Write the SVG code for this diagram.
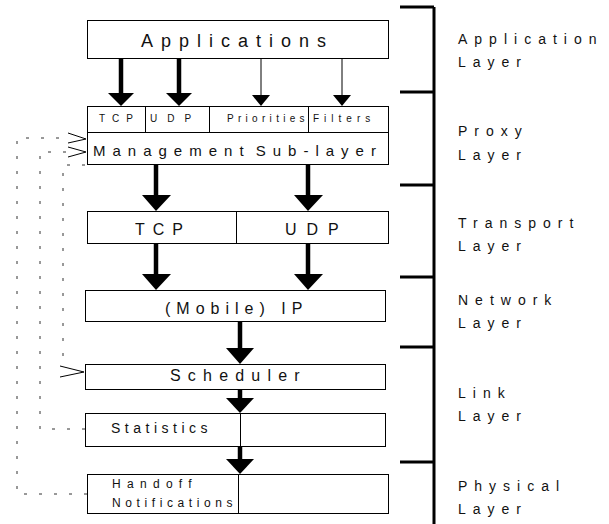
<svg xmlns="http://www.w3.org/2000/svg" width="609" height="524" viewBox="0 0 609 524">
<style>
.box{fill:#fff;stroke:#000;stroke-width:1}
.div{stroke:#000;stroke-width:1}
text{font-family:"Liberation Sans",Arial,sans-serif;fill:#111}
.big{font-size:18px;letter-spacing:8px}
.med{font-size:16px}
.sm{font-size:10px}
.lay{font-size:14px;letter-spacing:7px}
.shaft{stroke:#000;stroke-width:4.5}
.thin{stroke:#000;stroke-width:1}
.dash{fill:none;stroke:#333;stroke-width:1;stroke-dasharray:3,12}
.chev{fill:none;stroke:#000;stroke-width:1}
.brk{stroke:#000;stroke-width:3;fill:none}
</style>
<rect width="609" height="524" fill="#fff"/>

<g id="connectors">
  <line class="shaft" x1="121" y1="59" x2="121" y2="94"/>
  <polygon points="108,93 134,93 121,106"/>
  <line class="shaft" x1="179" y1="59" x2="179" y2="94"/>
  <polygon points="166,93 192,93 179,106"/>
  <line class="thin" x1="261" y1="59" x2="261" y2="95"/>
  <polygon points="252,95 270,95 261,106"/>
  <line class="thin" x1="342" y1="59" x2="342" y2="95"/>
  <polygon points="333,95 351,95 342,106"/>
  <line class="shaft" x1="156" y1="165" x2="156" y2="196"/>
  <polygon points="142,195 171,195 156,211"/>
  <line class="shaft" x1="308" y1="165" x2="308" y2="196"/>
  <polygon points="294,195 323,195 308,211"/>
  <line class="shaft" x1="156" y1="244" x2="156" y2="275"/>
  <polygon points="142,274 171,274 156,290"/>
  <line class="shaft" x1="308" y1="244" x2="308" y2="275"/>
  <polygon points="294,274 323,274 308,290"/>
  <line class="shaft" x1="240" y1="322" x2="240" y2="349"/>
  <polygon points="226,348 254,348 240,364"/>
  <line class="shaft" x1="240" y1="388" x2="240" y2="399"/>
  <polygon points="226,398 254,398 240,413"/>
  <line class="shaft" x1="240" y1="446" x2="240" y2="460"/>
  <polygon points="226,459 254,459 240,474"/>

  <polyline class="dash" points="87,494 17,494 17,138 66,138"/>
  <polyline class="chev" points="68,133 86,139 68,143"/>
  <polyline class="dash" points="85,429 40,429 40,152 66,152"/>
  <polyline class="chev" points="68,147 86,152 68,157"/>
  <polyline class="dash" points="85,165 63,165 63,368"/>
  <polyline class="chev" points="60,366 84,372 60,377"/>

  <line class="brk" x1="434" y1="7" x2="434" y2="524"/>
  <line class="brk" x1="400" y1="7" x2="434" y2="7"/>
  <line class="brk" x1="400" y1="92" x2="434" y2="92"/>
  <line class="brk" x1="400" y1="185" x2="434" y2="185"/>
  <line class="brk" x1="400" y1="277" x2="434" y2="277"/>
  <line class="brk" x1="400" y1="347" x2="434" y2="347"/>
  <line class="brk" x1="400" y1="462" x2="434" y2="462"/>
</g>

<g id="applications">
  <rect class="box" x="87.5" y="20.5" width="301" height="38"/>
  <text class="big" x="141" y="47">Applications</text>
</g>

<g id="proxy">
  <rect class="box" x="87.5" y="106.5" width="301" height="58"/>
  <line class="div" x1="87.5" y1="132.5" x2="388.5" y2="132.5"/>
  <line class="div" x1="145.5" y1="106.5" x2="145.5" y2="132.5"/>
  <line class="div" x1="209.5" y1="106.5" x2="209.5" y2="132.5"/>
  <line class="div" x1="308.5" y1="106.5" x2="308.5" y2="132.5"/>
  <text class="sm" x="99" y="122" style="letter-spacing:7px">TCP</text>
  <text class="sm" x="150" y="122" style="letter-spacing:10px">UDP</text>
  <text class="sm" x="227" y="122" style="letter-spacing:4.3px">Priorities</text>
  <text class="sm" x="313" y="122" style="letter-spacing:5px">Filters</text>
  <text class="med" x="93" y="156" style="font-size:15px;letter-spacing:7px;word-spacing:-6px">Management Sub-layer</text>
</g>

<g id="transport">
  <rect class="box" x="87.5" y="211.5" width="301" height="32"/>
  <line class="div" x1="236.5" y1="211.5" x2="236.5" y2="243.5"/>
  <text class="med" x="135" y="235" style="letter-spacing:8px">TCP</text>
  <text class="med" x="285" y="235" style="letter-spacing:10px">UDP</text>
</g>

<g id="ip">
  <rect class="box" x="85.5" y="290.5" width="300" height="31"/>
  <text class="med" x="165" y="314" style="letter-spacing:6px">(Mobile) IP</text>
</g>

<g id="scheduler">
  <rect class="box" x="85.5" y="364.5" width="300" height="25"/>
  <text class="med" x="170" y="381" style="letter-spacing:7.2px">Scheduler</text>
</g>

<g id="statistics">
  <rect class="box" x="85.5" y="413.5" width="300" height="33"/>
  <line class="div" x1="240.5" y1="413.5" x2="240.5" y2="446.5"/>
  <text class="med" x="111" y="433" style="font-size:14px;letter-spacing:4.5px">Statistics</text>
</g>

<g id="handoff">
  <rect class="box" x="87.5" y="474.5" width="301" height="39"/>
  <line class="div" x1="238.5" y1="474.5" x2="238.5" y2="513.5"/>
  <text x="112" y="488" style="font-size:12px;letter-spacing:6.3px">Handoff</text>
  <text x="112" y="507" style="font-size:12px;letter-spacing:4.6px">Notifications</text>
</g>

<g id="layers">
  <text class="lay" x="458" y="44">Application</text>
  <text class="lay" x="458" y="67">Layer</text>
  <text class="lay" x="458" y="136">Proxy</text>
  <text class="lay" x="458" y="160">Layer</text>
  <text class="lay" x="458" y="228">Transport</text>
  <text class="lay" x="458" y="251">Layer</text>
  <text class="lay" x="458" y="305">Network</text>
  <text class="lay" x="458" y="328">Layer</text>
  <text class="lay" x="458" y="398">Link</text>
  <text class="lay" x="458" y="421">Layer</text>
  <text class="lay" x="458" y="491">Physical</text>
  <text class="lay" x="458" y="514">Layer</text>
</g>
</svg>
